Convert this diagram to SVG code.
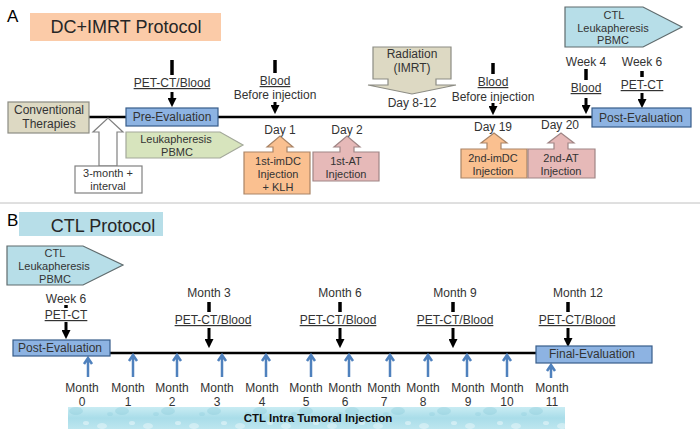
<svg xmlns="http://www.w3.org/2000/svg" width="700" height="437" viewBox="0 0 700 437">
<defs>
<style>
text{font-family:"Liberation Sans",Arial,sans-serif;font-size:12px;fill:#333;text-anchor:middle}
.sm{font-size:11px}
.ttl{font-size:18px;fill:#262626}
.lbl{font-size:17px;fill:#000;text-anchor:start}
.u{text-decoration:underline}
.bar{stroke:#000;stroke-width:3.5;fill:none}
.blk{stroke:#000;stroke-width:3;fill:none;marker-end:url(#ah)}
.tl{stroke:#000;stroke-width:2.5;fill:none}
.blue{stroke:#4F81BD;stroke-width:2.5;fill:none;stroke-linejoin:miter}
.bx{stroke-width:1.2}
.tan{fill:#DDD9C3;stroke:#8C8C84}
.bl{fill:#8DB3E2;stroke:#385D8A}
.gr{fill:#D7E4BD;stroke:#A3A89A}
.cy{fill:#B7DEE8;stroke:#5F6B6D}
.or{fill:#FAC090;stroke:#A98466}
.pk{fill:#E6B9B8;stroke:#A08585}
.wh{fill:#FFFFFF;stroke:#808080}
</style>
<marker id="ah" viewBox="0 0 10 10" refX="1" refY="5" markerWidth="9" markerHeight="9" markerUnits="userSpaceOnUse" orient="auto">
<path d="M0,0 L10,5 L0,10 Z" fill="#000"/>
</marker>
<linearGradient id="water" x1="0" y1="0" x2="0" y2="1">
<stop offset="0" stop-color="#C9ECF3"/>
<stop offset="0.5" stop-color="#A9DDE9"/>
<stop offset="1" stop-color="#BDE6EF"/>
</linearGradient>
<pattern id="drops" width="46" height="22" patternUnits="userSpaceOnUse">
<ellipse cx="10" cy="8" rx="5" ry="3" fill="#FFFFFF" fill-opacity="0.35"/>
<ellipse cx="30" cy="15" rx="7" ry="4" fill="#7FC4D6" fill-opacity="0.3"/>
<ellipse cx="40" cy="5" rx="3" ry="2" fill="#FFFFFF" fill-opacity="0.4"/>
<ellipse cx="18" cy="18" rx="3" ry="2" fill="#8ACBDB" fill-opacity="0.3"/>
</pattern>
</defs>
<rect width="700" height="437" fill="#FFFFFF"/>

<!-- Panel A -->
<g id="labelA"><text class="lbl" x="7" y="22">A</text></g>
<g id="titleA">
<rect x="30" y="13" width="191" height="28" fill="#FBCBA8"/>
<text class="ttl" x="126" y="33">DC+IMRT Protocol</text>
</g>
<line x1="0" y1="203" x2="700" y2="203" stroke="#C0C0C0" stroke-width="1"/>

<g id="connectorsA">
<line class="tl" x1="89" y1="117" x2="592" y2="117"/>
<line class="bar" x1="172" y1="60" x2="172" y2="75"/>
<line class="blk" x1="172" y1="92" x2="172" y2="99"/>
<line class="bar" x1="275" y1="60" x2="275" y2="73"/>
<line class="blk" x1="275" y1="102" x2="275" y2="106"/>
<line class="bar" x1="493" y1="63" x2="493" y2="74"/>
<line class="blk" x1="493" y1="103" x2="493" y2="107"/>
<line class="bar" x1="586" y1="69" x2="586" y2="80"/>
<line class="blk" x1="586" y1="98" x2="586" y2="106"/>
<line class="bar" x1="642" y1="71" x2="642" y2="77"/>
<line class="blk" x1="642" y1="93" x2="642" y2="100"/>
</g>

<g id="conventional">
<rect class="tan bx" x="8" y="102" width="81" height="31"/>
<text x="49" y="114">Conventional</text>
<text x="49" y="128">Therapies</text>
</g>
<g id="interval">
<path class="wh bx" d="M99,166 V132 H93 L108,118 L123,132 H117 V166 Z"/>
<rect class="wh bx" x="75" y="166" width="67" height="27"/>
<text class="sm" x="108" y="177">3-month +</text>
<text class="sm" x="108" y="190">interval</text>
</g>
<g id="preEval">
<rect class="bl bx" x="126" y="108" width="92" height="18"/>
<text x="172" y="121">Pre-Evaluation</text>
</g>
<g id="petctA">
<text class="u" x="172" y="87">PET-CT/Blood</text>
</g>
<g id="leukA">
<path class="gr bx" d="M126,132 H220 L243,145 L220,158 H126 Z"/>
<text class="sm" x="176" y="143">Leukapheresis</text>
<text class="sm" x="177" y="156">PBMC</text>
</g>
<g id="blood1">
<text class="u" x="275" y="85">Blood</text>
<text x="275" y="99">Before injection</text>
</g>
<g id="day1">
<text x="280" y="134">Day 1</text>
<path class="or bx" d="M244,152 H273 V147 H267 L280,136 L293,147 H287 V152 H310 V194 H244 Z"/>
<text class="sm" x="278" y="165">1st-imDC</text>
<text class="sm" x="278" y="178">Injection</text>
<text class="sm" x="278" y="191">+ KLH</text>
</g>
<g id="day2">
<text x="347" y="134">Day 2</text>
<path class="pk bx" d="M313,152 H340 V147 H334 L347,136 L360,147 H354 V152 H379 V181 H313 Z"/>
<text class="sm" x="346" y="165">1st-AT</text>
<text class="sm" x="346" y="178">Injection</text>
</g>
<g id="radiation">
<path class="tan bx" d="M373,47 H451 V79 H436 V85 H456 L412,94 L368,85 H388 V79 H373 Z"/>
<text x="412" y="58">Radiation</text>
<text x="412" y="72">(IMRT)</text>
<text x="412" y="107">Day 8-12</text>
</g>
<g id="blood2">
<text class="u" x="493" y="86">Blood</text>
<text x="493" y="101">Before injection</text>
</g>
<g id="day19">
<text x="493" y="131">Day 19</text>
<path class="or bx" d="M461,149 H487 V143 H481 L494,133 L507,143 H501 V149 H527 V178 H461 Z"/>
<text class="sm" x="493" y="162">2nd-imDC</text>
<text class="sm" x="493" y="175">Injection</text>
</g>
<g id="day20">
<text x="560" y="129">Day 20</text>
<path class="pk bx" d="M528,149 H554 V143 H548 L561,133 L574,143 H568 V149 H595 V178 H528 Z"/>
<text class="sm" x="561" y="162">2nd-AT</text>
<text class="sm" x="561" y="175">Injection</text>
</g>
<g id="leukCTLA">
<path class="cy bx" d="M565,7 H643 L682,27 L643,47 H565 Z"/>
<text class="sm" x="614" y="19">CTL</text>
<text class="sm" x="613" y="32">Leukapheresis</text>
<text class="sm" x="613" y="44">PBMC</text>
</g>
<g id="week4">
<text x="586" y="66">Week 4</text>
<text class="u" x="586" y="92">Blood</text>
</g>
<g id="week6A">
<text x="642" y="66">Week 6</text>
<text class="u" x="642" y="89">PET-CT</text>
</g>
<g id="postEvalA">
<rect class="bl bx" x="592" y="108" width="99" height="19"/>
<text x="641" y="122">Post-Evaluation</text>
</g>

<!-- Panel B -->
<g id="labelB"><text class="lbl" x="7" y="226">B</text></g>
<g id="titleB">
<rect x="19" y="212" width="144" height="24" fill="#B7DEE8"/>
<text class="ttl" x="103" y="232">CTL Protocol</text>
</g>

<g id="connectorsB">
<line class="tl" x1="110" y1="353" x2="536" y2="353"/>
<line class="bar" x1="66" y1="305" x2="66" y2="308" stroke-width="2"/>
<line class="blk" x1="66" y1="322" x2="66" y2="331"/>
<line class="bar" x1="209" y1="302" x2="209" y2="312"/>
<line class="blk" x1="209" y1="328" x2="209" y2="340"/>
<line class="bar" x1="340" y1="302" x2="340" y2="312"/>
<line class="blk" x1="340" y1="328" x2="340" y2="340"/>
<line class="bar" x1="453" y1="302" x2="453" y2="312"/>
<line class="blk" x1="453" y1="328" x2="453" y2="340"/>
<line class="bar" x1="568" y1="302" x2="568" y2="312"/>
<line class="blk" x1="568" y1="328" x2="568" y2="339"/>
<path class="blue" d="M88,377 V358 M84,364 L88,358 L92,364"/>
<path class="blue" d="M133,377 V355 M129,361 L133,355 L137,361"/>
<path class="blue" d="M177,377 V355 M173,361 L177,355 L181,361"/>
<path class="blue" d="M222,377 V355 M218,361 L222,355 L226,361"/>
<path class="blue" d="M266,377 V355 M262,361 L266,355 L270,361"/>
<path class="blue" d="M311,377 V355 M307,361 L311,355 L315,361"/>
<path class="blue" d="M349,377 V355 M345,361 L349,355 L353,361"/>
<path class="blue" d="M390,377 V355 M386,361 L390,355 L394,361"/>
<path class="blue" d="M428,377 V355 M424,361 L428,355 L432,361"/>
<path class="blue" d="M467,377 V355 M463,361 L467,355 L471,361"/>
<path class="blue" d="M507,377 V355 M503,361 L507,355 L511,361"/>
<path class="blue" d="M551,378 V365 M547,371 L551,365 L555,371"/>
</g>

<g id="leukCTLB">
<path class="cy bx" d="M7,246 H83 L123,265 L83,285 H7 Z"/>
<text class="sm" x="55" y="257">CTL</text>
<text class="sm" x="54" y="270">Leukapheresis</text>
<text class="sm" x="55" y="283">PBMC</text>
</g>
<g id="week6B">
<text x="66" y="303">Week 6</text>
<text class="u" x="66" y="319">PET-CT</text>
</g>
<g id="postEvalB">
<rect class="bl bx" x="13" y="340" width="97" height="16"/>
<text x="60" y="352">Post-Evaluation</text>
</g>
<g id="month3">
<text x="209" y="297">Month 3</text>
<text class="u" x="213" y="324">PET-CT/Blood</text>
</g>
<g id="month6">
<text x="340" y="297">Month 6</text>
<text class="u" x="338" y="324">PET-CT/Blood</text>
</g>
<g id="month9">
<text x="455" y="297">Month 9</text>
<text class="u" x="455" y="324">PET-CT/Blood</text>
</g>
<g id="month12">
<text x="578" y="297">Month 12</text>
<text class="u" x="577" y="324">PET-CT/Blood</text>
</g>
<g id="finalEval">
<rect class="bl bx" x="536" y="346" width="116" height="17"/>
<text x="592" y="358">Final-Evaluation</text>
</g>
<g id="monthLabels">
<text x="82" y="392">Month</text><text x="82" y="406">0</text>
<text x="128" y="392">Month</text><text x="128" y="406">1</text>
<text x="172" y="392">Month</text><text x="172" y="406">2</text>
<text x="217" y="392">Month</text><text x="217" y="406">3</text>
<text x="262" y="392">Month</text><text x="262" y="406">4</text>
<text x="306" y="392">Month</text><text x="306" y="406">5</text>
<text x="345" y="392">Month</text><text x="345" y="406">6</text>
<text x="384" y="392">Month</text><text x="384" y="406">7</text>
<text x="423" y="392">Month</text><text x="423" y="406">8</text>
<text x="468" y="392">Month</text><text x="468" y="406">9</text>
<text x="507" y="392">Month</text><text x="507" y="406">10</text>
<text x="552" y="392">Month</text><text x="552" y="406">11</text>
</g>
<g id="injectionBar">
<rect x="68" y="407" width="497" height="22" fill="url(#water)"/>
<rect x="68" y="407" width="497" height="22" fill="url(#drops)"/>
<text x="318" y="422" style="font-weight:bold;font-size:11.5px;fill:#111">CTL Intra Tumoral Injection</text>
</g>
</svg>
